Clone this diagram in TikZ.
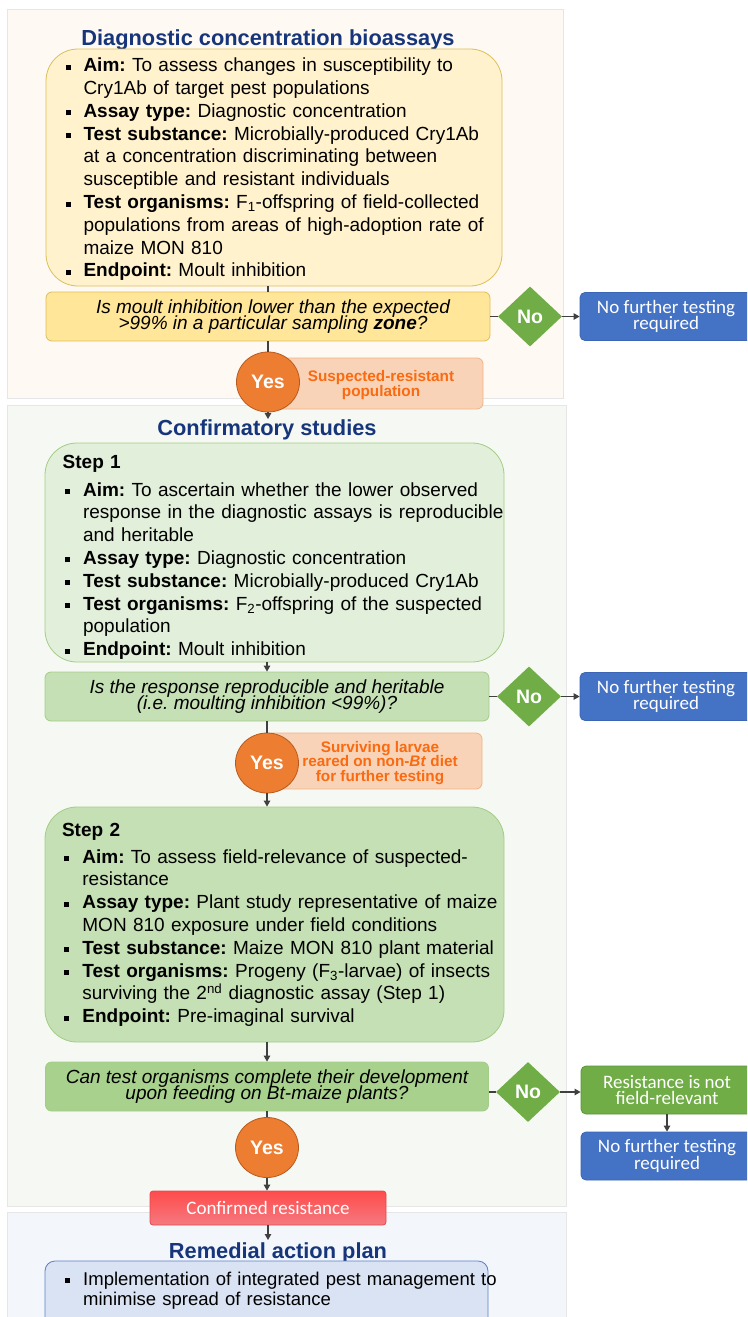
\documentclass[tikz,border=0pt]{standalone}
\usepackage{fontspec}
\setmainfont{Liberation Sans}
\newfontfamily\calib{Carlito}
\usetikzlibrary{shapes.geometric,arrows.meta}

\definecolor{panA}{HTML}{FEFAF3}
\definecolor{panB}{HTML}{F6F9F3}
\definecolor{panC}{HTML}{F3F7FC}
\definecolor{panLine}{HTML}{E6E6E6}
\definecolor{yelFill}{HTML}{FFF2CC}
\definecolor{yelLine}{HTML}{DDBE5C}
\definecolor{yelQ}{HTML}{FFE699}
\definecolor{grnA}{HTML}{E2EFDA}
\definecolor{grnB}{HTML}{C5E0B4}
\definecolor{grnC}{HTML}{A9D18E}
\definecolor{grnLine}{HTML}{A3CC87}
\definecolor{grnDark}{HTML}{70AD47}
\definecolor{grnDarkLine}{HTML}{5E9639}
\definecolor{bluBox}{HTML}{4472C4}
\definecolor{bluLine}{HTML}{3B66B5}
\definecolor{bluLight}{HTML}{DAE3F3}
\definecolor{bluLightLine}{HTML}{5B7FC6}
\definecolor{orgFill}{HTML}{ED7D31}
\definecolor{orgLine}{HTML}{B95A1C}
\definecolor{peach}{HTML}{F9D3B7}
\definecolor{peachLine}{HTML}{F4B183}
\definecolor{orgText}{HTML}{FA6A10}
\definecolor{navy}{HTML}{16357A}
\definecolor{arrowc}{HTML}{404040}
\definecolor{redTop}{HTML}{FF4B4B}
\definecolor{redBot}{HTML}{F47A80}
\definecolor{redLine}{HTML}{E5474F}

\newcommand\bodyf{\fontsize{19}{22.8}\selectfont\frenchspacing}
\newcommand\planf{\fontsize{18.5}{20.5}\selectfont\frenchspacing}
\newcommand\qf{\fontsize{19}{16.5}\selectfont\itshape\lineskiplimit=-30pt\frenchspacing}
\newcommand\calf{\calib\fontsize{19}{16.5}\selectfont\lineskiplimit=-30pt}
\newcommand\labf{\bfseries\fontsize{15.3}{14.6}\selectfont\lineskiplimit=-30pt}
\newcommand\titf{\bfseries\fontsize{21.8}{24}\selectfont}
\newcommand\knobf{\bfseries\fontsize{19.5}{20}\selectfont}
% first bullet of a list (no \par before it), and the following bullets
\newcommand\fbul[2]{\hangindent=#1\hangafter=1\noindent\makebox[#1][l]{\hspace{#2}\rule[2pt]{5pt}{5pt}}}
\newcommand\bul[2]{\par\fbul{#1}{#2}}

\tikzset{
  panel/.style={draw=panLine, line width=0.5pt},
  bigbox/.style={rectangle, rounded corners=32pt, line width=0.8pt},
  qbox/.style={rectangle, rounded corners=6pt, line width=0.8pt, align=center, font=\qf, text=black},
  bodytxt/.style={inner sep=0pt, text width=470pt, font=\bodyf, text=black},
  diam/.style={diamond, fill=grnDark, draw=none, minimum width=64pt, minimum height=60pt, inner sep=0pt, text=white, font=\knobf},
  yescirc/.style={ellipse, fill=orgFill, draw=orgLine, line width=0.8pt, minimum width=63pt, minimum height=60pt, inner sep=0pt, text=white, font=\knobf},
  labbox/.style={rectangle, rounded corners=6pt, fill=peach, draw=peachLine, line width=0.8pt},
  labtxt/.style={align=center, inner sep=0pt, font=\labf, text=orgText},
  endbox/.style={rectangle, rounded corners=5pt, line width=0.8pt, align=center, font=\calf, text=white, minimum width=172pt, minimum height=48pt},
  titlestyle/.style={inner sep=0pt, font=\titf, text=navy, anchor=base},
  ln/.style={draw=arrowc, line width=1.1pt},
  arr/.style={draw=arrowc, line width=1.1pt, -{Triangle[length=6pt,width=6.5pt]}}
}

\begin{document}
\begin{tikzpicture}[x=1pt,y=-1pt]
\useasboundingbox (0,0) rectangle (747,1317);
\clip (0,0) rectangle (747,1317);
\fill[white] (0,0) rectangle (747,1317);

% background panels
\filldraw[panel, fill=panA] (7,9) rectangle (563,398);
\filldraw[panel, fill=panB] (7,405) rectangle (566,1206);
\filldraw[panel, fill=panC] (7,1212) rectangle (566,1330);

% titles
\node[titlestyle] (title1) at (268,45) {Diagnostic concentration bioassays};
\node[titlestyle] (title2) at (267,435) {Confirmatory studies};
\node[titlestyle] (title3) at (278,1258.5) {Remedial action plan};

% main boxes
\node[bigbox, fill=yelFill, draw=yelLine, minimum width=456pt, minimum height=237pt] (box1) at (274,167.5) {};
\node[bigbox, fill=grnA, draw=grnLine, minimum width=459pt, minimum height=219pt] (step1) at (274.5,552.5) {};
\node[bigbox, fill=grnB, draw=grnLine, minimum width=459pt, minimum height=235pt] (step2) at (274.5,924.5) {};
\node[rectangle, rounded corners=10pt, line width=0.8pt, fill=bluLight, draw=bluLightLine, minimum width=443pt, minimum height=79pt] (box4) at (266.5,1300.5) {};

% body texts
\node[bodytxt, anchor=base west] (txt1) at (66,71.7) {%
\fbul{17.3pt}{0pt}\textbf{Aim:} To assess changes in susceptibility to\newline Cry1Ab of target pest populations
\bul{17.3pt}{0pt}\textbf{Assay type:} Diagnostic concentration
\bul{17.3pt}{0pt}\textbf{Test substance:} Microbially-produced Cry1Ab\newline at a concentration discriminating between\newline susceptible and resistant individuals
\bul{17.3pt}{0pt}\textbf{Test organisms:} F\textsubscript{1}-offspring of field-collected\newline populations from areas of high-adoption rate of\newline maize MON 810
\bul{17.3pt}{0pt}\textbf{Endpoint:} Moult inhibition\par};

\node[bodytxt, anchor=base west] (txt2) at (62.5,468) {%
\noindent\textbf{Step 1}\par\vspace{5.2pt}
\bul{20.4pt}{2pt}\textbf{Aim:} To ascertain whether the lower observed\newline response in the diagnostic assays is reproducible\newline and heritable
\bul{20.4pt}{2pt}\textbf{Assay type:} Diagnostic concentration
\bul{20.4pt}{2pt}\textbf{Test substance:} Microbially-produced Cry1Ab
\bul{20.4pt}{2pt}\textbf{Test organisms:} F\textsubscript{2}-offspring of the suspected\newline population
\bul{20.4pt}{2pt}\textbf{Endpoint:} Moult inhibition\par};

\node[bodytxt, anchor=base west] (txt3) at (61.8,836) {%
\noindent\textbf{Step 2}\par\vspace{4.2pt}
\bul{20.4pt}{2pt}\textbf{Aim:} To assess field-relevance of suspected-\newline resistance
\bul{20.4pt}{2pt}\textbf{Assay type:} Plant study representative of maize\newline MON 810 exposure under field conditions
\bul{20.4pt}{2pt}\textbf{Test substance:} Maize MON 810 plant material
\bul{20.4pt}{2pt}\textbf{Test organisms:} Progeny (F\textsubscript{3}-larvae) of insects\newline surviving the 2\textsuperscript{nd} diagnostic assay (Step 1)
\bul{20.4pt}{2pt}\textbf{Endpoint:} Pre-imaginal survival\par};

\node[bodytxt, font=\planf, anchor=base west] (txt4) at (65,1285) {%
\fbul{18pt}{0pt}Implementation of integrated pest management to\newline minimise spread of resistance\par};

% question boxes
\node[qbox, fill=yelQ, draw=yelLine, minimum width=444pt, minimum height=49pt] (q1) at (268,316.5) {\hspace*{10pt}Is moult inhibition lower than the expected\\ \hspace*{10pt}>99\% in a particular sampling \textbf{zone}?};
\node[qbox, fill=grnB, draw=grnLine, minimum width=444pt, minimum height=49pt] (q2) at (267,696.5) {Is the response reproducible and heritable\\ (i.e. moulting inhibition <99\%)?};
\node[qbox, fill=grnC, draw=grnLine, minimum width=443pt, minimum height=49pt] (q3) at (267,1086.5) {Can test organisms complete their development\\ upon feeding on Bt-maize plants?};

% diamonds
\node[diam] (d1) at (530,316.5) {No};
\node[diam] (d2) at (529,696.5) {No};
\node[diam] (d3) at (528,1092) {No};

% end boxes
\node[endbox, fill=bluBox, draw=bluLine] (n1) at (666,316.5) {No further testing\\required};
\node[endbox, fill=bluBox, draw=bluLine] (n2) at (666,696.5) {No further testing\\required};
\node[endbox, fill=grnDark, draw=grnDarkLine] (g3) at (667,1090) {Resistance is not\\field-relevant};
\node[endbox, fill=bluBox, draw=bluLine] (n3) at (667,1156) {No further testing\\required};

% yes labels
\node[labbox, minimum width=215pt, minimum height=51pt] (lab1) at (375.5,383.5) {};
\node[labtxt] (lab1t) at (381,385) {Suspected-resistant\\population};
\node[labbox, minimum width=216pt, minimum height=56pt] (lab2) at (374,761) {};
\node[labtxt] (lab2t) at (380,763) {Surviving larvae\\reared on non-\textit{Bt} diet\\for further testing};

% yes circles
\node[yescirc] (y1) at (268,382) {Yes};
\node[yescirc] (y2) at (267,763) {Yes};
\node[yescirc] (y3) at (267,1147.5) {Yes};

% confirmed resistance
\node[rectangle, rounded corners=3pt, top color=redTop, bottom color=redBot, draw=redLine, line width=0.8pt, minimum width=236pt, minimum height=34pt, font=\calf, text=white] (conf) at (268,1208) {Confirmed resistance};

% connectors
\coordinate (t2top) at (268,419);
\coordinate (t3top) at (268,1240);
\draw[ln] (q1.north |- box1.south) -- (q1.north);
\draw[ln] (q1.south) -- (y1.north);
\draw[arr] (y1.south) -- (t2top);
\draw[arr] (q2.north |- step1.south) -- (q2.north);
\draw[ln] (q2.south) -- (y2.north);
\draw[arr] (y2.south) -- (y2.south |- step2.north);
\draw[arr] (q3.north |- step2.south) -- (q3.north);
\draw[ln] (q3.south) -- (y3.north);
\draw[arr] (y3.south) -- (y3.south |- conf.north);
\draw[arr] (conf.south) -- (t3top);

\draw[ln] (q1.east) -- (d1.west);
\draw[arr] (d1.east) -- (n1.west);
\draw[ln] (q2.east) -- (d2.west);
\draw[arr] (d2.east) -- (n2.west);
\draw[ln] (d3.west -| q3.east) -- (d3.west);
\draw[arr] (d3.east) -- (d3.east -| g3.west);
\draw[arr] (g3.south) -- (n3.north);
\end{tikzpicture}
\end{document}
